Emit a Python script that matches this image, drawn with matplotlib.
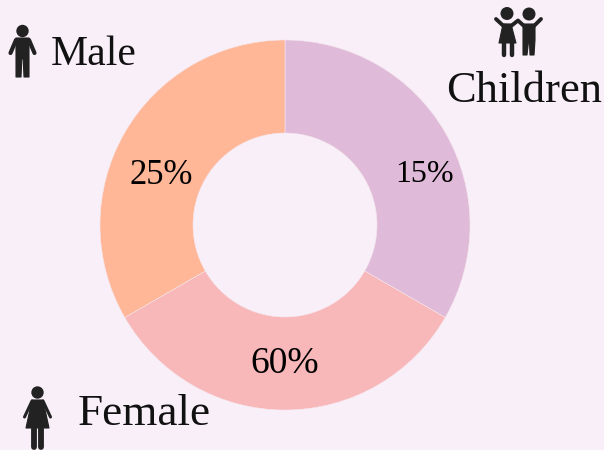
import matplotlib.pyplot as plt
from matplotlib.patches import Circle, Polygon

# slices are drawn equal in the original, whatever the labels say
slice_sizes = [1, 1, 1]
slice_labels = ['15%', '60%', '25%']
slice_colors = ['#DFBBD9', '#F8B7B9', '#FFB798']
categories = ['Children', 'Female', 'Male']

bg = '#F9EFF8'
ink = '#222222'

fig = plt.figure(figsize=(6.04, 4.5), dpi=100, facecolor=bg)
ax = fig.add_axes([0, 0, 1, 1])


def flip(points):
    # reference pixels have y going down
    return [(x, 450 - y) for x, y in points]


def shape(points):
    ax.add_patch(Polygon(flip(points), closed=True, fc=ink, ec=ink, lw=0.8, joinstyle='round', zorder=3))


def limb(points, width):
    xs, ys = zip(*flip(points))
    ax.plot(xs, ys, color=ink, lw=width, solid_capstyle='round', solid_joinstyle='round', zorder=3)


def head(x, y, r):
    ax.add_patch(Circle((x, 450 - y), r, fc=ink, ec='none', zorder=3))


ax.pie(slice_sizes, startangle=90, counterclock=False, colors=slice_colors,
       center=(285, 225), radius=185, frame=True,
       wedgeprops={'width': 93, 'edgecolor': '#F5E6EC', 'linewidth': 0.4})
ax.set_xlim(0, 604)
ax.set_ylim(0, 450)
ax.set_aspect('equal')
ax.axis('off')

# percent labels
serif = 'Liberation Serif'
ax.text(425, 450 - 174, slice_labels[0], fontsize=23, family=serif, color='black', ha='center', va='center')
ax.text(285, 450 - 364, slice_labels[1], fontsize=27, family=serif, color='black', ha='center', va='center')
ax.text(161, 450 - 176, slice_labels[2], fontsize=25, family=serif, color='black', ha='center', va='center')

# category labels
ax.text(524.5, 450 - 91, categories[0], fontsize=32, family=serif, color='#111111', ha='center', va='center')
ax.text(144, 450 - 414, categories[1], fontsize=32.5, family=serif, color='#111111', ha='center', va='center')
ax.text(93.5, 450 - 55, categories[2], fontsize=30, family=serif, color='#111111', ha='center', va='center')

# man icon
head(22.5, 31, 6.2)
shape([(16, 38), (29, 38), (29, 58), (29, 77), (24, 77), (23.2, 59), (21.8, 59), (21, 77), (16, 77), (16, 58)])
limb([(16, 40), (10.5, 53)], 3)
limb([(29, 40), (34.5, 53)], 3)

# woman icon
head(37.5, 392.5, 6.2)
shape([(32, 400), (43, 400), (49, 428), (26, 428)])
limb([(32, 401), (24.5, 417)], 2.2)
limb([(43, 401), (50.5, 417)], 2.2)
limb([(33.5, 428), (33.5, 446.5)], 4.2)
limb([(41, 428), (41, 446.5)], 4.2)

# children icon, inner arms join above the shoulders
head(507, 13.5, 6.5)
head(529, 14, 6.5)
limb([(496, 19), (503, 25.5), (511, 26), (518, 20.5), (524, 26), (534, 26), (541, 19)], 2.8)
shape([(503, 24), (511, 24), (516, 43), (499, 43)])
limb([(503.5, 43), (503.5, 55)], 3.2)
limb([(511.5, 43), (511.5, 55)], 3.2)
shape([(523, 24), (535, 24), (535, 40), (534, 55), (530, 55), (529.5, 42), (528.5, 42), (527, 55), (523, 55), (523, 40)])

fig.savefig('out.png', dpi=100, facecolor=bg)
